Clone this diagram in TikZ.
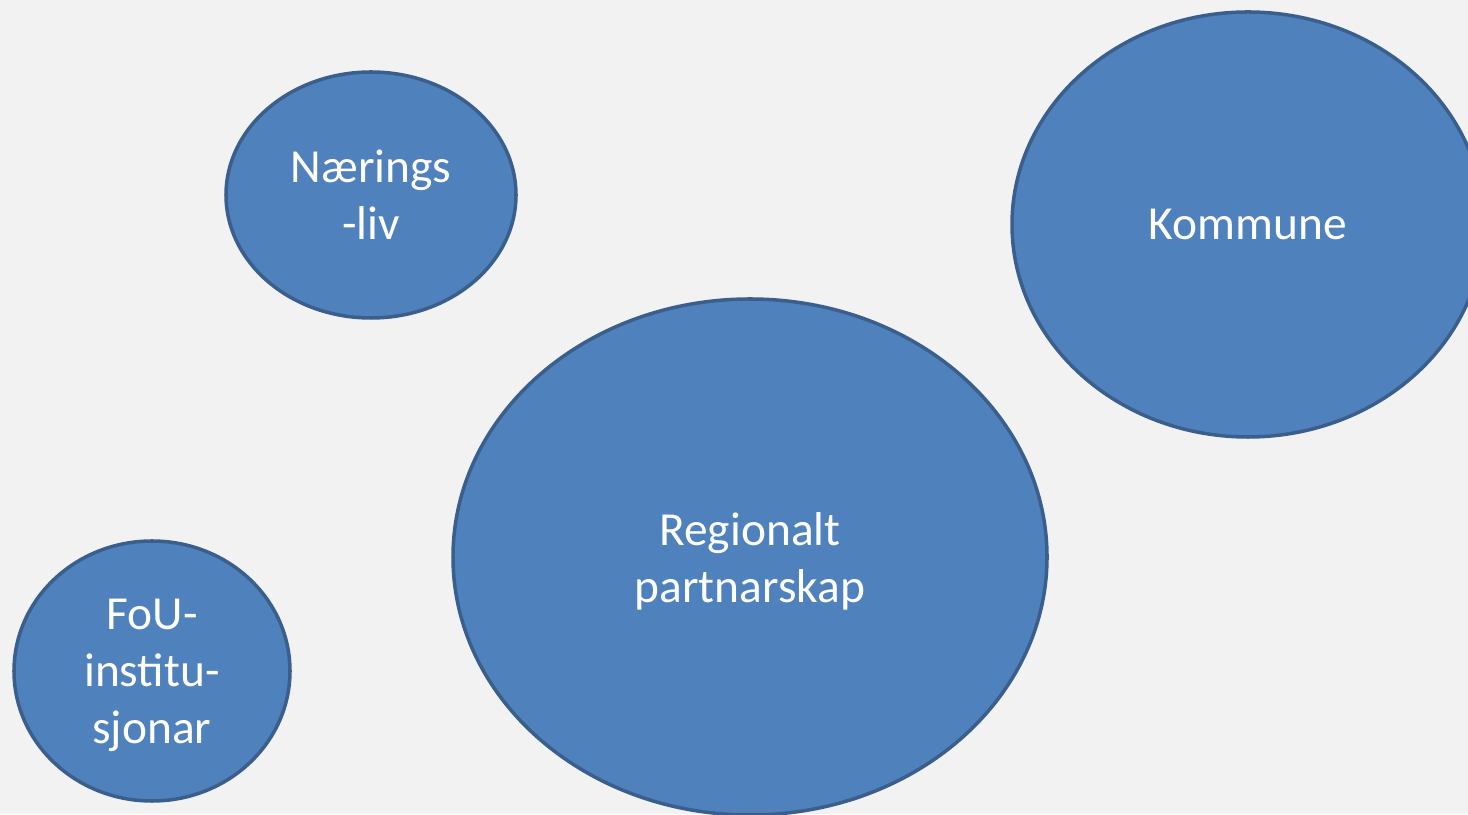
\documentclass[tikz,border=0pt]{standalone}
\usepackage{fontspec}
\setmainfont{Carlito}
\usetikzlibrary{shapes.geometric}

\definecolor{bgcol}{HTML}{F2F2F2}
\definecolor{partfill}{HTML}{4F81BD}
\definecolor{partline}{HTML}{3A5F8C}

\newcommand{\ptline}[1]{\raisebox{-0.09cm}[\height][\depth]{#1}} % nudge text a bit down

\begin{document}
\begin{tikzpicture}[
            partner/.style = {
                ellipse,
                draw = partline,
                line width = 2pt,
                fill = partfill,
                text = white,
                inner sep = 0pt,
                align = center,
                font = \fontsize{27}{32.5}\selectfont
            }
        ]

        % background
        \useasboundingbox[fill = bgcol] (0,0) rectangle (29.36,16.28);

        \node[partner, minimum width = 5.8cm, minimum height = 4.92cm] (naering) at (7.42,12.38) {Nærings\\-liv};
        \node[partner, minimum width = 9.44cm, minimum height = 8.5cm] (kommune) at (24.96,11.79) {Kommune};
        \node[partner, minimum width = 11.88cm, minimum height = 10.32cm] (regional) at (15.0,5.14) {\ptline{Regionalt}\\\ptline{partnarskap}};
        \node[partner, minimum width = 5.52cm, minimum height = 5.2cm] (fou) at (3.04,2.86) {\ptline{FoU-}\\\ptline{institu-}\\\ptline{sjonar}};

    \end{tikzpicture}
\end{document}
